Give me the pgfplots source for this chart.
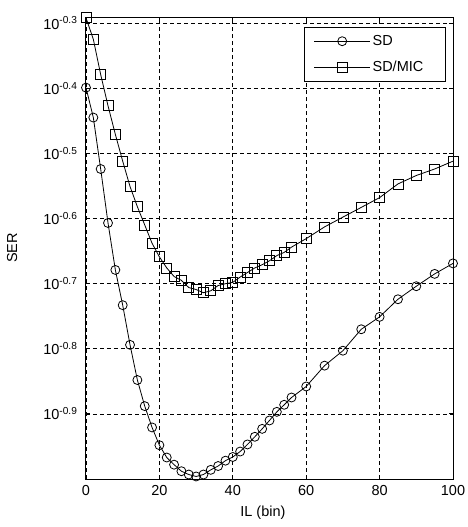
\documentclass[border=0pt]{standalone}
\usepackage{fontspec}
\setmainfont{Liberation Sans}
\usepackage{pgfplots}
\pgfplotsset{compat=1.18}

\newcommand{\lblfont}{\fontsize{14.5}{17}\selectfont}

\begin{document}
\begin{tikzpicture}
\useasboundingbox (-86pt,-48pt) rectangle (382pt,479pt);
\begin{axis}[
  at={(0,0)}, anchor=south west,
  scale only axis, width=367pt, height=462pt,
  xmin=0, xmax=100,
  ymode=log, ymin=0.1, ymax=0.512,
  xtick={0,20,...,100},
  ytick={0.50119,0.39811,0.31623,0.25119,0.19953,0.15849,0.12589},
  yticklabels={10\textsuperscript{-0.3},10\textsuperscript{-0.4},10\textsuperscript{-0.5},10\textsuperscript{-0.6},10\textsuperscript{-0.7},10\textsuperscript{-0.8},10\textsuperscript{-0.9}},
  yminorticks=false, xminorticks=false,
  /pgf/number format/assume math mode=true,
  ticklabel style={font=\lblfont, black},
  xticklabel style={yshift=-3pt},
  yticklabel style={xshift=-5pt},
  label style={font=\lblfont, black},
  grid=major,
  major grid style={black, dash pattern=on 4pt off 3pt, line width=0.7pt},
  axis line style={black, line width=1pt},
  tick style={black, line width=0.8pt},
  major tick length=4pt,
  xlabel={IL (bin)},
  ylabel={SER},
  xlabel style={at={(axis description cs:0.482,-0.074)}, anchor=center},
  ylabel style={at={(axis description cs:-0.2016,0.5)}, anchor=center},
  legend style={at={(rel axis cs:1,1)}, anchor=north east, xshift=-7pt, yshift=-10pt,
    draw=black, line width=0.8pt, font=\lblfont, row sep=10pt,
    inner xsep=9pt, inner ysep=6pt, cells={anchor=west}},
  legend image code/.code={
    \draw[mark repeat=2, mark phase=2, #1] plot coordinates {(0pt,0pt) (28pt,0pt) (56pt,0pt)};
  },
]
% SD
\addplot[black, line width=0.8pt, mark=o, mark size=4.5pt, mark options={solid, fill=none}] coordinates {
(0,0.3990) (2,0.3589) (4,0.2992) (6,0.2472) (8,0.2094) (10,0.1849)
(12,0.1607) (14,0.1419) (16,0.1294) (18,0.1200) (20,0.1127) (22,0.1079)
(24,0.1052) (26,0.1028) (28,0.1016) (30,0.1009) (32,0.1016) (34,0.1033)
(36,0.1047) (38,0.1067) (40,0.1081) (42,0.1102) (44,0.1130) (46,0.1161)
(48,0.1194) (50,0.1230) (52,0.1268) (54,0.1300) (56,0.1334) (60,0.1387)
(65,0.1493) (70,0.1574) (75,0.1698) (80,0.1774) (85,0.1888) (90,0.1977)
(95,0.2065) (100,0.2143)
};
% SD/MIC
\addplot[black, line width=0.8pt, mark=square, mark size=5pt, mark options={solid, fill=none}] coordinates {
(0,0.5105) (2,0.4732) (4,0.4178) (6,0.3741) (8,0.3381) (10,0.3076)
(12,0.2812) (14,0.2618) (16,0.2455) (18,0.2301) (20,0.2193) (22,0.2109)
(24,0.2046) (26,0.2018) (28,0.1968) (30,0.1954) (32,0.1932) (34,0.1945)
(36,0.1982) (38,0.1995) (40,0.2004) (42,0.2042) (44,0.2075) (46,0.2109)
(48,0.2133) (50,0.2163) (52,0.2203) (54,0.2228) (56,0.2270) (60,0.2339)
(65,0.2438) (70,0.2524) (75,0.2612) (80,0.2704) (85,0.2838) (90,0.2924)
(95,0.2992) (100,0.3076)
};
\legend{\makebox[62pt][l]{SD}, \makebox[62pt][l]{SD/MIC}}
\end{axis}
\end{tikzpicture}
\end{document}
